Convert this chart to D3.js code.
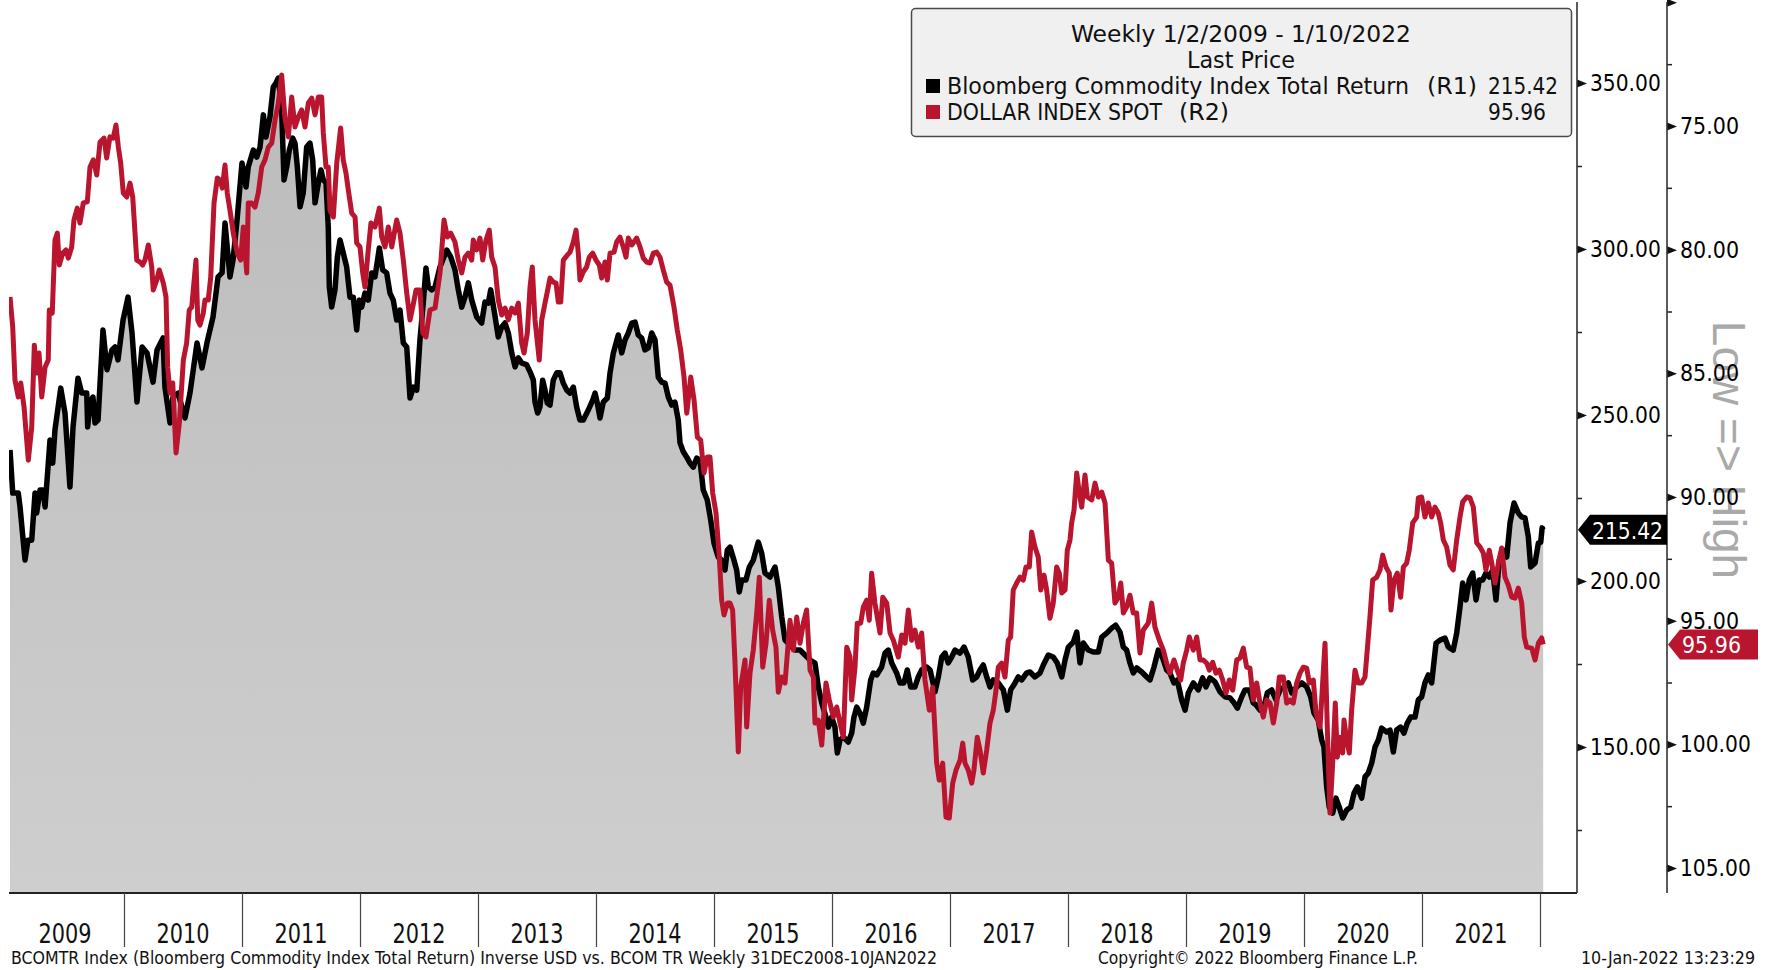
<!DOCTYPE html>
<html>
<head>
<meta charset="utf-8">
<script src="https://cdn.jsdelivr.net/npm/d3@7"></script>
<style>
  body { margin: 0; background: #fff; }
  svg { display: block; font-family: "DejaVu Sans", "Liberation Sans", sans-serif; font-stretch: semi-condensed; }
</style>
</head>
<body>
<div id="chart"></div>
<script>
// Inverse USD vs. BCOM TR (Bloomberg screen)

// Bloomberg Commodity Index Total Return, [decimal year, value] (R1, left axis)
var bcom = [
  [2009.034,239.5],[2009.057,226.5],[2009.104,226.5],[2009.119,222.3],[2009.161,206.3],[2009.186,212.3],[2009.218,212.3],[2009.246,226.5],
  [2009.260,220.5],[2009.288,227.4],[2009.314,227.4],[2009.331,222.3],[2009.356,234.3],[2009.373,242.5],[2009.396,235.5],[2009.415,245.5],
  [2009.464,258.1],[2009.500,250.6],[2009.542,228.3],[2009.568,246.4],[2009.610,261.1],[2009.642,256.6],[2009.684,256.6],[2009.692,246.4],
  [2009.712,253.6],[2009.737,255.4],[2009.754,247.6],[2009.780,248.5],[2009.822,275.6],[2009.856,263.6],[2009.898,269.6],[2009.924,270.5],
  [2009.949,266.6],[2009.992,278.6],[2010.034,285.5],[2010.068,274.7],[2010.110,253.9],[2010.153,270.5],[2010.195,268.7],[2010.246,259.9],
  [2010.280,269.6],[2010.331,273.2],[2010.347,258.4],[2010.390,247.6],[2010.415,255.4],[2010.458,256.6],[2010.517,249.1],[2010.559,256.6],
  [2010.619,271.7],[2010.661,264.2],[2010.703,271.7],[2010.754,279.5],[2010.797,291.6],[2010.831,292.8],[2010.856,307.8],[2010.898,291.6],
  [2010.924,296.7],[2010.958,308.7],[2011.000,325.9],[2011.034,318.7],[2011.053,324.7],[2011.096,329.8],[2011.125,327.7],[2011.153,330.7],
  [2011.181,340.4],[2011.203,333.7],[2011.237,339.8],[2011.265,348.8],[2011.288,350.0],[2011.308,351.5],[2011.336,341.9],[2011.356,320.8],
  [2011.379,324.7],[2011.401,329.8],[2011.430,333.4],[2011.449,331.9],[2011.469,324.7],[2011.492,312.7],[2011.519,316.9],[2011.548,330.7],
  [2011.576,331.9],[2011.599,326.8],[2011.619,313.9],[2011.647,319.9],[2011.669,323.8],[2011.689,320.8],[2011.712,319.9],[2011.731,306.6],
  [2011.740,288.6],[2011.760,282.5],[2011.788,287.7],[2011.808,297.6],[2011.831,302.7],[2011.858,298.8],[2011.887,294.6],[2011.915,285.5],
  [2011.943,285.5],[2011.972,275.6],[2011.994,284.6],[2012.014,282.5],[2012.042,286.7],[2012.070,284.6],[2012.099,292.8],[2012.127,291.6],
  [2012.164,300.3],[2012.192,293.7],[2012.226,292.8],[2012.254,286.7],[2012.282,284.6],[2012.311,278.6],[2012.339,281.6],[2012.367,271.7],
  [2012.396,270.5],[2012.424,255.1],[2012.452,258.4],[2012.481,257.5],[2012.508,272.6],[2012.536,283.7],[2012.559,294.3],[2012.579,288.6],
  [2012.608,287.7],[2012.636,288.6],[2012.678,294.6],[2012.735,299.7],[2012.769,297.6],[2012.805,293.7],[2012.833,287.7],[2012.862,282.5],
  [2012.890,285.5],[2012.918,289.8],[2012.947,284.6],[2012.989,279.5],[2013.031,277.7],[2013.059,284.0],[2013.087,283.7],[2013.108,287.7],
  [2013.136,281.6],[2013.172,273.5],[2013.201,276.5],[2013.229,277.7],[2013.257,274.7],[2013.286,268.7],[2013.314,264.5],[2013.342,267.2],
  [2013.370,265.7],[2013.413,265.1],[2013.441,263.0],[2013.469,260.5],[2013.483,253.9],[2013.506,250.6],[2013.525,252.4],[2013.548,260.5],
  [2013.568,257.5],[2013.587,253.6],[2013.610,253.0],[2013.638,260.5],[2013.667,262.7],[2013.695,262.7],[2013.723,259.6],[2013.752,257.5],
  [2013.780,256.6],[2013.808,258.4],[2013.836,252.4],[2013.864,248.5],[2013.892,248.5],[2013.935,251.5],[2013.972,254.5],[2013.992,256.6],
  [2014.011,253.6],[2014.034,249.1],[2014.062,253.9],[2014.096,255.1],[2014.119,262.7],[2014.147,268.7],[2014.189,274.1],[2014.218,268.7],
  [2014.246,272.6],[2014.274,274.7],[2014.303,277.7],[2014.331,278.0],[2014.358,274.1],[2014.387,273.2],[2014.415,269.6],[2014.443,270.2],
  [2014.472,274.7],[2014.500,272.6],[2014.528,261.4],[2014.557,259.9],[2014.585,259.6],[2014.613,255.4],[2014.642,253.0],[2014.669,253.9],
  [2014.697,248.5],[2014.712,241.6],[2014.740,238.9],[2014.769,237.3],[2014.797,235.5],[2014.825,234.3],[2014.853,237.0],[2014.881,236.4],
  [2014.909,227.4],[2014.943,224.4],[2014.972,218.4],[2015.000,211.4],[2015.036,207.2],[2015.065,206.3],[2015.093,203.3],[2015.113,209.3],
  [2015.136,210.2],[2015.164,206.9],[2015.192,203.3],[2015.214,196.7],[2015.235,200.3],[2015.271,200.3],[2015.299,204.2],[2015.333,206.3],
  [2015.375,211.7],[2015.404,208.4],[2015.432,202.4],[2015.475,201.2],[2015.517,204.2],[2015.545,198.2],[2015.574,189.2],[2015.602,182.2],
  [2015.644,180.7],[2015.686,179.2],[2015.729,179.2],[2015.771,177.7],[2015.814,176.2],[2015.856,175.3],[2015.884,168.1],[2015.913,163.3],
  [2015.949,159.0],[2015.969,156.0],[2015.997,159.0],[2016.025,156.0],[2016.045,148.2],[2016.068,152.1],[2016.096,153.0],[2016.138,151.5],
  [2016.167,154.2],[2016.186,159.0],[2016.209,162.0],[2016.237,160.2],[2016.265,157.2],[2016.294,162.0],[2016.328,170.2],[2016.350,172.3],
  [2016.379,171.7],[2016.421,174.1],[2016.449,178.3],[2016.477,179.2],[2016.506,175.3],[2016.548,172.3],[2016.576,169.3],[2016.610,169.3],
  [2016.638,173.2],[2016.667,168.1],[2016.703,168.1],[2016.731,171.1],[2016.760,173.2],[2016.803,174.1],[2016.831,173.2],[2016.873,166.6],
  [2016.901,171.1],[2016.930,177.1],[2016.958,178.3],[2016.985,175.3],[2017.014,177.1],[2017.042,179.2],[2017.085,178.3],[2017.119,180.1],
  [2017.155,177.1],[2017.192,170.2],[2017.226,171.1],[2017.254,173.2],[2017.282,174.7],[2017.311,171.1],[2017.339,168.1],[2017.367,170.2],
  [2017.409,169.3],[2017.452,167.2],[2017.486,161.1],[2017.514,167.2],[2017.551,169.3],[2017.579,171.1],[2017.608,170.2],[2017.650,172.3],
  [2017.678,172.6],[2017.720,171.1],[2017.763,172.3],[2017.791,174.7],[2017.833,177.7],[2017.875,177.1],[2017.909,175.3],[2017.947,171.1],
  [2017.975,176.2],[2018.003,180.1],[2018.045,181.6],[2018.074,184.6],[2018.102,175.3],[2018.130,181.3],[2018.172,179.2],[2018.214,178.6],
  [2018.257,178.6],[2018.286,183.1],[2018.328,184.3],[2018.370,185.8],[2018.404,186.7],[2018.441,184.6],[2018.469,180.1],[2018.497,179.2],
  [2018.525,175.3],[2018.553,172.3],[2018.582,173.8],[2018.625,172.6],[2018.667,171.1],[2018.695,170.2],[2018.729,174.1],[2018.765,179.2],
  [2018.803,176.8],[2018.836,173.2],[2018.864,172.3],[2018.898,169.3],[2018.926,170.2],[2018.963,164.2],[2018.992,161.1],[2019.020,166.3],
  [2019.062,169.3],[2019.104,167.2],[2019.141,170.8],[2019.169,168.1],[2019.203,170.8],[2019.246,169.6],[2019.288,166.6],[2019.331,165.1],
  [2019.373,164.8],[2019.407,163.3],[2019.435,161.7],[2019.472,165.1],[2019.500,167.2],[2019.537,167.2],[2019.570,163.3],[2019.593,162.7],
  [2019.627,161.1],[2019.669,163.3],[2019.689,166.3],[2019.726,167.2],[2019.763,164.2],[2019.797,167.2],[2019.831,168.1],[2019.867,169.3],
  [2019.896,166.3],[2019.938,168.1],[2019.981,169.3],[2020.023,168.1],[2020.057,165.1],[2020.085,160.2],[2020.121,158.1],[2020.150,152.1],
  [2020.169,150.0],[2020.192,138.0],[2020.214,131.9],[2020.243,130.1],[2020.271,134.6],[2020.299,131.9],[2020.328,128.6],[2020.362,131.0],
  [2020.396,131.9],[2020.424,136.1],[2020.452,138.0],[2020.489,134.6],[2020.517,141.0],[2020.545,142.2],[2020.574,145.2],[2020.602,150.0],
  [2020.630,152.1],[2020.658,155.7],[2020.701,154.5],[2020.729,155.1],[2020.757,148.5],[2020.785,155.1],[2020.819,156.0],[2020.847,154.2],
  [2020.875,157.2],[2020.904,159.0],[2020.941,159.0],[2020.969,164.2],[2020.997,165.1],[2021.025,169.3],[2021.053,171.7],[2021.082,169.3],
  [2021.119,181.3],[2021.153,182.2],[2021.195,182.8],[2021.223,180.1],[2021.265,179.2],[2021.294,184.3],[2021.322,192.2],[2021.345,199.4],
  [2021.373,194.3],[2021.401,200.3],[2021.430,202.4],[2021.458,194.3],[2021.486,200.3],[2021.514,200.3],[2021.542,202.4],[2021.570,201.2],
  [2021.599,203.3],[2021.627,194.3],[2021.655,206.3],[2021.689,209.3],[2021.718,207.2],[2021.746,217.5],[2021.780,223.5],[2021.816,220.5],
  [2021.845,219.3],[2021.873,219.0],[2021.901,213.3],[2021.921,204.2],[2021.958,205.4],[2021.986,211.4],[2022.006,211.7],[2022.018,216.0],
  [2022.027,215.42]
];

// DOLLAR INDEX SPOT, [decimal year, value] (R2, right axis, inverted)
var dxy = [
  [2009.034,81.91],[2009.057,83.13],[2009.076,85.27],[2009.104,85.96],[2009.125,85.39],[2009.153,86.36],[2009.189,88.51],[2009.218,87.17],
  [2009.240,83.86],[2009.260,84.99],[2009.280,84.18],[2009.303,85.96],[2009.331,84.75],[2009.358,84.46],[2009.367,82.44],[2009.392,82.56],
  [2009.415,79.61],[2009.435,79.33],[2009.452,80.62],[2009.481,80.14],[2009.508,80.01],[2009.528,80.34],[2009.557,79.89],[2009.576,78.80],
  [2009.604,78.32],[2009.627,78.92],[2009.655,78.11],[2009.689,78.07],[2009.712,76.66],[2009.740,76.37],[2009.769,76.98],[2009.797,75.65],
  [2009.831,75.49],[2009.853,76.29],[2009.881,75.44],[2009.909,75.49],[2009.932,74.96],[2009.952,75.85],[2009.972,76.50],[2009.994,77.71],
  [2010.023,77.87],[2010.051,77.31],[2010.074,77.87],[2010.108,80.42],[2010.136,80.50],[2010.158,80.62],[2010.178,80.42],[2010.206,79.81],
  [2010.235,80.70],[2010.248,81.63],[2010.277,81.23],[2010.299,80.82],[2010.333,81.35],[2010.356,81.91],[2010.370,84.75],[2010.390,85.80],
  [2010.413,85.39],[2010.441,88.22],[2010.469,87.01],[2010.503,84.46],[2010.531,83.77],[2010.553,82.44],[2010.574,82.32],[2010.610,80.42],
  [2010.625,82.84],[2010.644,83.05],[2010.672,82.56],[2010.686,82.04],[2010.714,82.04],[2010.735,81.11],[2010.763,78.11],[2010.791,77.10],
  [2010.814,77.18],[2010.833,77.51],[2010.856,76.58],[2010.875,77.71],[2010.898,78.40],[2010.926,79.33],[2010.960,80.14],[2010.989,80.42],
  [2011.011,79.08],[2011.040,80.94],[2011.053,78.11],[2011.082,78.11],[2011.110,78.28],[2011.138,77.71],[2011.167,76.66],[2011.195,76.37],
  [2011.223,75.85],[2011.252,75.69],[2011.280,74.76],[2011.308,74.07],[2011.336,72.94],[2011.364,74.68],[2011.393,75.44],[2011.421,73.83],
  [2011.449,75.04],[2011.477,74.64],[2011.506,74.35],[2011.534,75.04],[2011.562,74.07],[2011.591,73.87],[2011.619,74.55],[2011.647,73.83],
  [2011.675,73.83],[2011.689,75.28],[2011.712,76.66],[2011.731,76.66],[2011.746,78.40],[2011.774,78.68],[2011.803,76.50],[2011.836,75.08],
  [2011.858,76.37],[2011.881,76.90],[2011.901,77.59],[2011.930,78.52],[2011.958,78.68],[2011.972,79.73],[2012.000,79.89],[2012.023,80.94],
  [2012.042,81.51],[2012.070,80.01],[2012.093,78.92],[2012.127,79.08],[2012.164,78.32],[2012.184,79.49],[2012.212,79.89],[2012.240,79.08],
  [2012.269,79.89],[2012.311,78.80],[2012.339,79.33],[2012.367,80.42],[2012.396,81.75],[2012.424,82.84],[2012.447,82.32],[2012.475,81.63],
  [2012.508,81.63],[2012.532,83.37],[2012.559,83.53],[2012.593,82.44],[2012.636,82.36],[2012.678,80.94],[2012.712,78.80],[2012.740,79.49],
  [2012.769,79.33],[2012.805,79.69],[2012.833,80.42],[2012.862,80.94],[2012.890,80.30],[2012.918,80.14],[2012.947,80.42],[2012.960,79.61],
  [2012.989,80.01],[2013.017,79.53],[2013.040,80.42],[2013.068,79.61],[2013.096,79.21],[2013.116,80.30],[2013.144,80.70],[2013.172,82.04],
  [2013.201,82.64],[2013.229,82.36],[2013.257,82.84],[2013.286,82.36],[2013.314,82.56],[2013.342,82.16],[2013.370,83.77],[2013.390,84.18],
  [2013.418,83.37],[2013.441,81.51],[2013.460,80.70],[2013.483,82.84],[2013.519,84.46],[2013.540,82.84],[2013.568,82.16],[2013.587,81.71],
  [2013.610,81.15],[2013.638,81.31],[2013.661,81.35],[2013.681,82.12],[2013.701,82.12],[2013.723,80.42],[2013.757,80.22],[2013.780,80.10],
  [2013.808,79.69],[2013.831,79.21],[2013.850,80.14],[2013.864,81.23],[2013.892,80.90],[2013.921,80.70],[2013.943,80.30],[2013.972,80.14],
  [2014.000,80.42],[2014.028,80.62],[2014.048,81.15],[2014.076,80.50],[2014.096,81.23],[2014.119,80.14],[2014.153,80.10],[2014.175,79.69],
  [2014.203,79.49],[2014.231,79.89],[2014.254,80.30],[2014.274,79.53],[2014.303,79.81],[2014.345,79.53],[2014.373,79.89],[2014.401,80.34],
  [2014.430,80.50],[2014.458,80.54],[2014.486,80.14],[2014.514,80.10],[2014.542,80.30],[2014.570,80.82],[2014.599,81.31],[2014.627,81.43],
  [2014.661,82.32],[2014.689,83.25],[2014.718,84.06],[2014.746,85.15],[2014.769,86.61],[2014.803,85.15],[2014.831,86.08],[2014.859,87.58],
  [2014.887,87.70],[2014.915,89.03],[2014.943,88.38],[2014.966,88.38],[2014.989,89.84],[2015.017,90.65],[2015.045,92.43],[2015.065,94.17],
  [2015.085,94.77],[2015.113,94.29],[2015.136,94.29],[2015.158,94.57],[2015.178,96.71],[2015.206,100.31],[2015.226,97.69],[2015.263,96.59],
  [2015.277,99.30],[2015.305,97.12],[2015.333,96.19],[2015.362,94.69],[2015.384,93.24],[2015.413,96.88],[2015.441,95.91],[2015.469,94.17],
  [2015.497,95.38],[2015.525,96.07],[2015.545,97.89],[2015.574,97.28],[2015.602,97.52],[2015.644,94.98],[2015.672,96.19],[2015.701,94.85],
  [2015.729,95.91],[2015.757,95.10],[2015.785,94.57],[2015.814,97.00],[2015.842,97.28],[2015.856,99.14],[2015.884,99.02],[2015.913,100.03],
  [2015.949,97.52],[2015.977,98.21],[2016.011,98.90],[2016.040,98.49],[2016.068,99.14],[2016.096,99.71],[2016.125,96.07],[2016.153,96.47],
  [2016.167,98.21],[2016.195,96.88],[2016.214,95.10],[2016.243,95.10],[2016.265,94.45],[2016.294,94.17],[2016.316,94.98],[2016.336,93.08],
  [2016.364,94.29],[2016.407,95.50],[2016.430,94.05],[2016.464,94.29],[2016.492,95.50],[2016.520,95.79],[2016.562,96.47],[2016.591,95.58],
  [2016.619,95.91],[2016.647,94.57],[2016.675,95.79],[2016.703,95.38],[2016.731,96.07],[2016.760,95.50],[2016.788,97.40],[2016.825,98.62],
  [2016.853,97.69],[2016.887,100.76],[2016.909,101.45],[2016.938,100.76],[2016.966,102.94],[2016.994,102.98],[2017.023,101.57],[2017.051,101.04],
  [2017.085,100.64],[2017.108,99.95],[2017.127,100.76],[2017.155,101.04],[2017.184,101.57],[2017.203,101.04],[2017.231,99.71],[2017.254,100.23],
  [2017.282,101.16],[2017.311,100.23],[2017.339,99.14],[2017.367,98.62],[2017.390,97.81],[2017.409,96.88],[2017.438,96.72],[2017.466,97.28],
  [2017.494,95.79],[2017.514,95.66],[2017.536,93.76],[2017.565,93.48],[2017.593,93.24],[2017.621,93.36],[2017.644,92.83],[2017.672,92.83],
  [2017.692,91.42],[2017.720,92.02],[2017.748,92.43],[2017.769,93.76],[2017.797,93.16],[2017.819,93.76],[2017.847,94.90],[2017.875,94.29],
  [2017.904,92.83],[2017.926,93.08],[2017.947,93.88],[2017.975,93.76],[2017.994,92.15],[2018.017,91.74],[2018.031,91.05],[2018.051,90.53],
  [2018.074,89.03],[2018.096,89.84],[2018.116,90.41],[2018.144,89.11],[2018.164,90.00],[2018.201,90.12],[2018.229,89.44],[2018.257,90.00],
  [2018.286,89.80],[2018.314,90.24],[2018.342,92.55],[2018.370,92.67],[2018.398,94.29],[2018.426,94.05],[2018.447,93.48],[2018.469,94.69],
  [2018.497,94.45],[2018.525,93.97],[2018.553,94.69],[2018.582,94.69],[2018.610,96.31],[2018.638,95.38],[2018.680,95.10],[2018.709,94.29],
  [2018.737,95.26],[2018.774,95.79],[2018.808,96.19],[2018.836,96.72],[2018.864,97.12],[2018.898,96.59],[2018.926,97.00],[2018.955,97.40],
  [2018.977,96.72],[2019.006,96.19],[2019.028,95.66],[2019.062,96.19],[2019.091,95.66],[2019.119,96.59],[2019.147,96.59],[2019.176,96.72],
  [2019.198,97.00],[2019.226,96.68],[2019.254,97.12],[2019.282,97.00],[2019.311,97.40],[2019.339,97.93],[2019.367,97.40],[2019.396,97.81],
  [2019.430,96.59],[2019.458,96.51],[2019.486,96.11],[2019.514,96.88],[2019.542,96.92],[2019.570,98.21],[2019.599,97.52],[2019.627,98.33],
  [2019.655,98.90],[2019.684,98.21],[2019.712,98.33],[2019.740,99.14],[2019.769,98.33],[2019.791,97.28],[2019.825,97.28],[2019.853,98.33],
  [2019.881,98.21],[2019.909,98.33],[2019.938,97.52],[2019.966,97.12],[2019.994,96.88],[2020.023,96.92],[2020.045,97.52],[2020.079,97.40],
  [2020.102,98.74],[2020.136,99.30],[2020.158,97.52],[2020.178,95.91],[2020.198,99.42],[2020.220,102.78],[2020.243,100.76],[2020.265,98.33],
  [2020.282,100.52],[2020.305,99.71],[2020.328,100.35],[2020.339,99.02],[2020.362,99.83],[2020.384,100.35],[2020.404,98.62],[2020.432,97.00],
  [2020.460,97.52],[2020.489,97.52],[2020.517,97.28],[2020.536,96.19],[2020.559,94.85],[2020.582,93.36],[2020.616,93.24],[2020.644,92.95],
  [2020.667,92.35],[2020.695,92.83],[2020.723,93.08],[2020.737,94.57],[2020.763,93.36],[2020.791,93.08],[2020.819,94.05],[2020.842,92.83],
  [2020.870,92.67],[2020.892,92.15],[2020.921,91.05],[2020.955,90.81],[2020.969,90.04],[2020.997,90.00],[2021.025,90.81],[2021.053,90.24],
  [2021.082,90.81],[2021.110,90.41],[2021.138,90.65],[2021.158,91.05],[2021.181,91.74],[2021.209,92.02],[2021.237,92.75],[2021.265,92.95],
  [2021.294,91.74],[2021.322,90.81],[2021.345,90.20],[2021.379,90.00],[2021.407,90.04],[2021.435,90.41],[2021.464,91.86],[2021.492,92.02],
  [2021.520,92.27],[2021.542,92.95],[2021.570,92.15],[2021.591,92.67],[2021.619,93.48],[2021.647,92.67],[2021.675,92.06],[2021.703,93.24],
  [2021.731,93.56],[2021.760,94.05],[2021.788,94.09],[2021.816,93.68],[2021.845,94.29],[2021.867,95.66],[2021.887,96.07],[2021.930,96.11],
  [2021.958,96.59],[2021.986,95.91],[2022.014,95.70],[2022.027,95.96]
];

var years = [2009, 2010, 2011, 2012, 2013, 2014, 2015, 2016, 2017, 2018, 2019, 2020, 2021];
var leftTicks = [150, 200, 250, 300, 350];
var leftMinor = [125, 175, 225, 275, 325];
var rightTicks = [70, 75, 80, 85, 90, 95, 100, 105];
var rightMinor = [72.5, 77.5, 82.5, 87.5, 92.5, 97.5, 102.5];

var legendTitle = ["Weekly 1/2/2009 - 1/10/2022", "Last Price"];
var seriesNames = ["Bloomberg Commodity Index Total Return", "DOLLAR INDEX SPOT"];
var seriesAxes = ["(R1)", "(R2)"];
var footerLeft = "BCOMTR Index (Bloomberg Commodity Index Total Return) Inverse USD vs. BCOM TR  Weekly 31DEC2008-10JAN2022";
var footerMid = "Copyright\u00a9 2022 Bloomberg Finance L.P.";
var footerRight = "10-Jan-2022 13:23:29";

var RED = "#b9152f";

var svgWidth = 1772, svgHeight = 970;
var plot = { left: 9, right: 1577, bottom: 893 };

var svg = d3.select("#chart").append("svg")
  .attr("width", svgWidth)
  .attr("height", svgHeight);

// scales
var x = d3.scaleLinear().domain([2009, 2022]).range([6, 1540]);
var yLeft = d3.scaleLinear().domain([150, 350]).range([747, 83]);
var yRight = d3.scaleLinear().domain([75, 105]).range([126, 868]);   // inverted: low => high

var defs = svg.append("defs");
var grad = defs.append("linearGradient")
  .attr("id", "areaFill")
  .attr("gradientUnits", "userSpaceOnUse")
  .attr("x1", 0).attr("y1", 0).attr("x2", 0).attr("y2", plot.bottom);
grad.append("stop").attr("offset", "0%").attr("stop-color", "#bababa");
grad.append("stop").attr("offset", "100%").attr("stop-color", "#cecece");

defs.append("clipPath").attr("id", "plotClip")
  .append("rect")
  .attr("x", plot.left).attr("y", 0)
  .attr("width", plot.right - plot.left).attr("height", plot.bottom);

// helper: squeeze a text to a measured width
function fit(sel, w) {
  sel.attr("textLength", w).attr("lengthAdjust", "spacingAndGlyphs");
  return sel;
}

// watermark
svg.append("text")
  .attr("transform", "translate(1713, 450) rotate(90)")
  .attr("text-anchor", "middle")
  .style("font-family", "'Liberation Sans', Arial, sans-serif")
  .style("font-stretch", "normal")
  .style("font-size", "46px")
  .attr("fill", "#a9a9a9")
  .text("Low => High");

// series
var chartGroup = svg.append("g").attr("clip-path", "url(#plotClip)");

chartGroup.append("path")
  .datum(bcom)
  .attr("fill", "url(#areaFill)")
  .attr("d", d3.area()
    .x(d => x(d[0]))
    .y0(plot.bottom)
    .y1(d => yLeft(d[1])));

chartGroup.append("path")
  .datum(bcom)
  .attr("fill", "none")
  .attr("stroke", "#000")
  .attr("stroke-width", 5.5)
  .attr("stroke-linejoin", "round")
  .attr("d", d3.line().x(d => x(d[0])).y(d => yLeft(d[1])));

chartGroup.append("path")
  .datum(dxy)
  .attr("fill", "none")
  .attr("stroke", RED)
  .attr("stroke-width", 5)
  .attr("stroke-linejoin", "round")
  .attr("d", d3.line().x(d => x(d[0])).y(d => yRight(d[1])));

// x axis: baseline, year dividers and labels
svg.append("line")
  .attr("x1", plot.left).attr("x2", plot.right)
  .attr("y1", plot.bottom).attr("y2", plot.bottom)
  .attr("stroke", "#222").attr("stroke-width", 2);

svg.selectAll(".yearDiv")
  .data(years.slice(1).concat([2022]))
  .enter()
  .append("line")
  .attr("class", "yearDiv")
  .attr("x1", d => Math.round(x(d)) + 0.5).attr("x2", d => Math.round(x(d)) + 0.5)
  .attr("y1", plot.bottom).attr("y2", 947)
  .attr("stroke", "#444").attr("stroke-width", 1.2);

svg.selectAll(".yearLabel")
  .data(years)
  .enter()
  .append("text")
  .attr("class", "yearLabel")
  .attr("x", d => (x(d) + x(d + 1)) / 2)
  .attr("y", 934)
  .attr("text-anchor", "middle")
  .attr("dominant-baseline", "central")
  .style("font-size", "26px")
  .attr("fill", "#111")
  .text(d => d)
  .each(function() { fit(d3.select(this), 53); });

// right-hand axes
function drawAxis(xPos, scale, majors, minors, fmt) {
  var g = svg.append("g").attr("transform", `translate(${xPos},0)`);
  g.append("g")
    .call(d3.axisRight(scale).tickValues(minors).tickSize(5).tickFormat(""))
    .call(a => a.select(".domain").remove())
    .selectAll("line").attr("stroke", "#222").attr("stroke-width", 1.5);
  var major = g.append("g")
    .call(d3.axisRight(scale).tickValues(majors).tickSize(0).tickPadding(13).tickFormat(fmt))
    .call(a => a.select(".domain").remove());
  major.attr("font-family", null).attr("font-size", null);
  major.selectAll(".tick").append("path")
    .attr("d", "M0,-4L10,0L0,4Z")
    .attr("fill", "#111");
  major.selectAll(".tick text")
    .style("font-size", "23px")
    .attr("fill", "#000")
    .each(function() {
      var t = d3.select(this);
      if (t.text()) fit(t, 11.8 * t.text().length);
    });
  g.append("line")
    .attr("x1", 0).attr("x2", 0).attr("y1", 2).attr("y2", plot.bottom)
    .attr("stroke", "#333").attr("stroke-width", 1.6);
}

drawAxis(plot.right, yLeft, leftTicks, leftMinor, d3.format(".2f"));
drawAxis(1667, yRight, rightTicks, rightMinor, d => d < 75 ? "" : d.toFixed(2));

// last value tags
var bcomLast = bcom[bcom.length - 1][1];
var dxyLast = dxy[dxy.length - 1][1];

var tagL = svg.append("g").attr("transform", `translate(1578,${yLeft(bcomLast)})`);
tagL.append("path").attr("d", "M0,0L12,-15L89,-15L89,15L12,15Z").attr("fill", "#000");
fit(tagL.append("text")
  .attr("x", 14).attr("y", 1)
  .attr("dominant-baseline", "central")
  .style("font-size", "23px")
  .attr("fill", "#fff")
  .text(bcomLast.toFixed(2)), 71);

var tagR = svg.append("g").attr("transform", `translate(1668,${yRight(dxyLast)})`);
tagR.append("path").attr("d", "M0,0L12,-15L90,-15L90,15L12,15Z").attr("fill", RED);
fit(tagR.append("text")
  .attr("x", 14).attr("y", 1)
  .attr("dominant-baseline", "central")
  .style("font-size", "23px")
  .attr("fill", "#fff")
  .text(dxyLast.toFixed(2)), 59);

// legend
var legend = svg.append("g");
legend.append("rect")
  .attr("x", 911.5).attr("y", 8.5)
  .attr("width", 660).attr("height", 128)
  .attr("rx", 4)
  .attr("fill", "#f0f0f0")
  .attr("stroke", "#4a4a4a")
  .attr("stroke-width", 1.5);

legend.selectAll(".legTitle")
  .data(legendTitle)
  .enter()
  .append("text")
  .attr("class", "legTitle")
  .attr("x", 1241)
  .attr("y", (d, i) => 34 + i * 26)
  .attr("text-anchor", "middle")
  .attr("dominant-baseline", "central")
  .style("font-size", "23px")
  .attr("fill", "#111")
  .text(d => d)
  .each(function(d, i) { fit(d3.select(this), [340, 108][i]); });

var legendRows = [
  { name: seriesNames[0], axis: seriesAxes[0], last: bcomLast, color: "#000", nameW: 462, axisX: 1427, lastW: 70 },
  { name: seriesNames[1], axis: seriesAxes[1], last: dxyLast, color: RED, nameW: 215, axisX: 1179, lastW: 58 }
];

legendRows.forEach(function(r, i) {
  var cy = 86 + i * 26;
  legend.append("rect")
    .attr("x", 926).attr("y", cy - 7)
    .attr("width", 14).attr("height", 14)
    .attr("fill", r.color);
  fit(legend.append("text")
    .attr("x", 947).attr("y", cy)
    .attr("dominant-baseline", "central")
    .style("font-size", "23px").attr("fill", "#111")
    .text(r.name), r.nameW);
  fit(legend.append("text")
    .attr("x", r.axisX).attr("y", cy)
    .attr("dominant-baseline", "central")
    .style("font-size", "23px").attr("fill", "#111")
    .text(r.axis), 50);
  fit(legend.append("text")
    .attr("x", 1488).attr("y", cy)
    .attr("dominant-baseline", "central")
    .style("font-size", "23px").attr("fill", "#111")
    .text(r.last.toFixed(2)), r.lastW);
});

// footer
var footer = svg.append("g")
  .style("font-size", "17px")
  .attr("fill", "#111");

fit(footer.append("text").attr("x", 11).attr("y", 958)
  .attr("dominant-baseline", "central").text(footerLeft), 926);
fit(footer.append("text").attr("x", 1098).attr("y", 958)
  .attr("dominant-baseline", "central").text(footerMid), 320);
fit(footer.append("text").attr("x", 1581).attr("y", 958)
  .attr("dominant-baseline", "central").text(footerRight), 174);
</script>
</body>
</html>
